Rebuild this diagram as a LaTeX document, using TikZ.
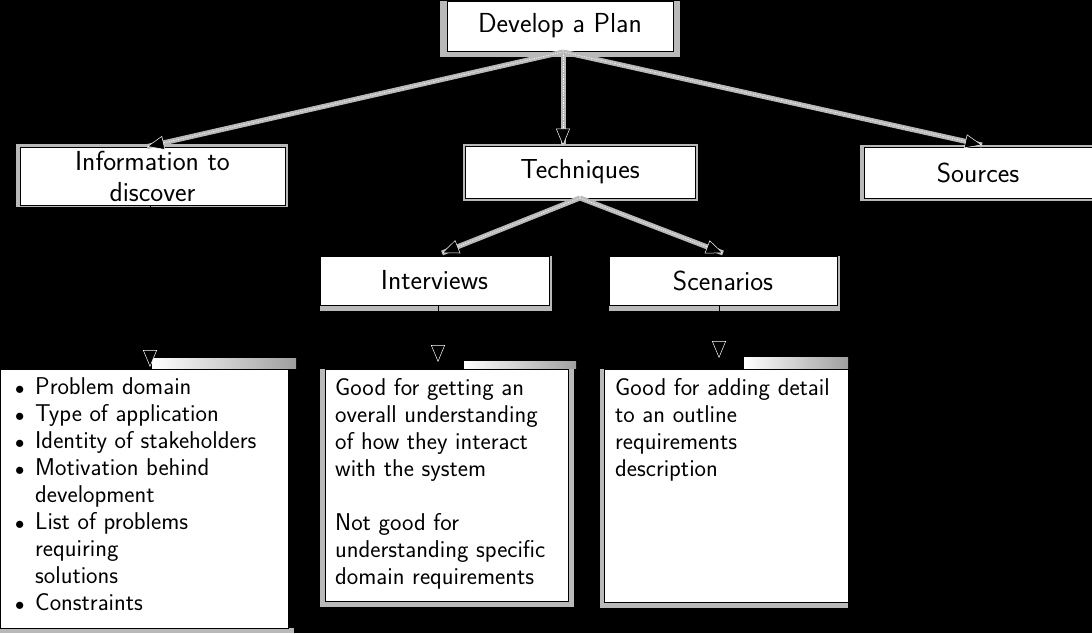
\documentclass[tikz,border=0pt]{standalone}
\usepackage{fontspec}
\usetikzlibrary{arrows.meta}
\pgfdeclarelayer{bg}
\pgfdeclarelayer{frame}
\pgfsetlayers{bg,frame,main}
\newcommand{\mybul}{\hspace*{3pt}\scalebox{0.75}{$\bullet$}}
\begin{document}
\begin{tikzpicture}[x=1pt,y=-1pt,
  box/.style={draw=black, fill=white, line width=0.8pt, inner sep=0pt,
    font=\fontsize{27.5}{31}\selectfont\sffamily, align=center},
  bodytext/.style={anchor=north west, inner sep=0pt, align=left,
    font=\fontsize{24.3}{27}\selectfont\sffamily},
  tip/.style={-{Triangle[length=17pt,width=14pt,color=white,fill=black,line width=0.5pt]}},
  conn/.style={tip, draw=white, dash pattern=on 1.2pt off 1.2pt, line width=0.6pt,
    preaction={draw=gray!55, line width=5pt, solid, -}},
  down/.style={tip, draw=black, line width=0.6pt},
  framefill/.style={fill=gray!55},
  topbar/.style={left color=white, right color=gray!75}
]
\useasboundingbox (0,0) rectangle (1092,633);
\begin{pgfonlayer}{bg}
\fill[black] (0,0) rectangle (1092,633);
\end{pgfonlayer}

% header nodes
\node[box, minimum width=226pt, minimum height=50pt] (plan) at (560,26) {Develop a Plan};
\node[box, minimum width=265pt, minimum height=58pt] (info) at (152.5,176) {Information to\\discover};
\node[box, minimum width=230pt, minimum height=52pt] (tech) at (580,172) {Techniques};
\node[box, minimum width=228pt, minimum height=51pt] (src) at (978,172.5) {Sources};
\node[box, minimum width=229pt, minimum height=49pt] (intv) at (434.5,280.5) {Interviews};
\node[box, minimum width=228pt, minimum height=49pt] (scen) at (723,280.5) {Scenarios};

% content boxes
\node[box, minimum width=288pt, minimum height=259pt] (listbox) at (144,498.5) {};
\node[box, minimum width=243pt, minimum height=232pt] (intvbox) at (446.5,485) {};
\node[box, minimum width=244pt, minimum height=233pt] (scenbox) at (726,485.5) {};

% frames / shadows
\begin{pgfonlayer}{frame}
\fill[framefill] ([xshift=-7pt]plan.north west) rectangle ([xshift=7pt,yshift=-6pt]plan.south east);
\fill[framefill] ([xshift=-4pt,yshift=3pt]info.north west) rectangle ([xshift=3pt,yshift=-2pt]info.south east);
\fill[framefill] ([xshift=-2pt,yshift=2pt]tech.north west) rectangle ([xshift=3pt,yshift=-3pt]tech.south east);
\fill[framefill] ([xshift=-4pt,yshift=2pt]src.north west) rectangle ([xshift=3pt,yshift=-3pt]src.south east);
\fill[framefill] (intv.north west) rectangle ([xshift=3pt,yshift=-6pt]intv.south east);
\fill[framefill] (scen.north west) rectangle ([xshift=3pt,yshift=-6pt]scen.south east);
\fill[framefill] ([xshift=-5pt]intvbox.north west) rectangle ([xshift=6pt,yshift=-6pt]intvbox.south east);
\fill[framefill] ([xshift=-4pt]scenbox.north west) rectangle ([yshift=-6pt]scenbox.south east);
\fill[framefill] (listbox.south west) rectangle ([xshift=6pt,yshift=-5pt]listbox.south east);
\end{pgfonlayer}
\shade[topbar] (152,358) rectangle (296,368);
\shade[topbar] (464,361) rectangle (576,368);
\shade[topbar] (744,357) rectangle (848,368);

% texts in content boxes
\node[bodytext] (listtext) at (12,375) {%
\begin{tabular}{@{}p{23pt}@{}l@{}}
\mybul & Problem domain\\
\mybul & Type of application\\
\mybul & Identity of stakeholders\\
\mybul & Motivation behind\\
 & development\\
\mybul & List of problems\\
 & requiring\\
 & solutions\\
\mybul & Constraints
\end{tabular}};
\node[bodytext] (intvtext) at (335,376) {%
\begin{tabular}{@{}l@{}}
Good for getting an\\
overall understanding\\
of how they interact\\
with the system\\
\\
Not good for\\
understanding specific\\
domain requirements
\end{tabular}};
\node[bodytext] (scentext) at (615,376) {%
\begin{tabular}{@{}l@{}}
Good for adding detail\\
to an outline\\
requirements\\
description
\end{tabular}};

% connectors
\coordinate (pj) at (563,52);
\coordinate (tj) at (580,198);
\draw[conn] (pj) -- (info.north -| 147,0);
\draw[conn] (pj) -- (tech.north -| 563,0);
\draw[conn] (pj) -- (982,145) coordinate (srcin);
\draw[conn] (tj) -- (442,253) coordinate (intvin);
\draw[conn] (tj) -- (723,253) coordinate (scenin);
\draw[down] (info.south -| 150,0) -- (150,367) coordinate (listin);
\draw[down] (intv.south -| 438,0) -- (438,362) coordinate (intvboxin);
\draw[down] (scen.south -| 719,0) -- (719,358) coordinate (scenboxin);
\end{tikzpicture}
\end{document}
